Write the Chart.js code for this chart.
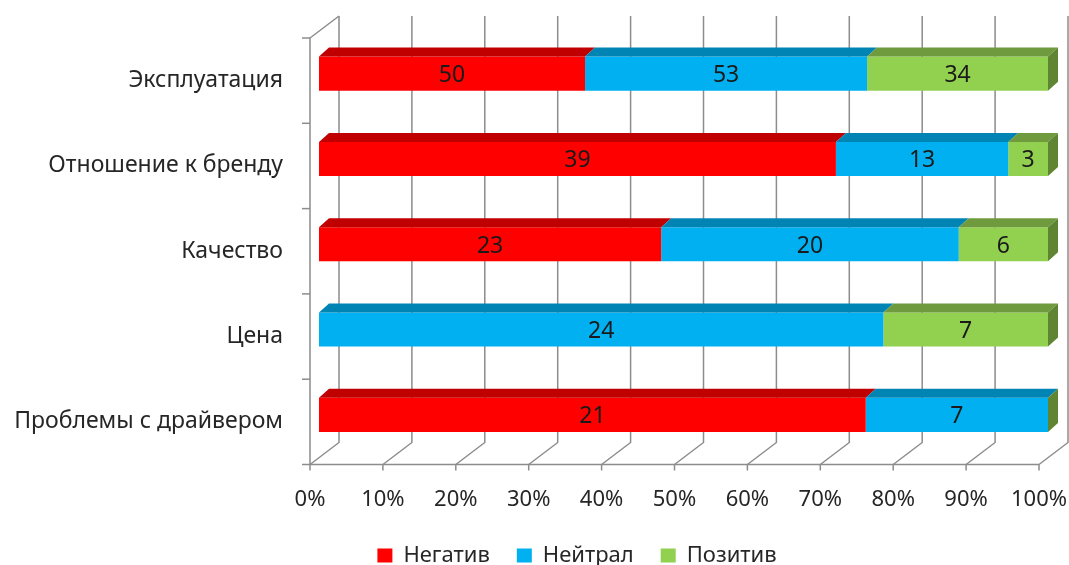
<!DOCTYPE html>
<html lang="ru">
<head>
<meta charset="UTF-8">
<title>Отзывы по категориям</title>
<style>
  body { margin: 0; background: #ffffff; }
  #chart { display: block; }
</style>
<script src="https://cdn.jsdelivr.net/npm/chart.js"></script>
</head>
<body>
<canvas id="chart" width="1069" height="565"></canvas>
<script>
const categories = ['Эксплуатация', 'Отношение к бренду', 'Качество', 'Цена', 'Проблемы с драйвером'];
const negative = [50, 39, 23, 0, 21];
const neutral = [53, 13, 20, 24, 7];
const positive = [34, 3, 6, 7, 0];
const xTicks = [0, 10, 20, 30, 40, 50, 60, 70, 80, 90, 100];

const FONT = '"Noto Sans", sans-serif';
const faceColors = ['#ff0000', '#00b0f0', '#92d050'];
const topColors = ['#c00000', '#0084b4', '#6f9a3e'];
const sideColor = '#5f8532';

// excel style 100% stacked: turn counts into shares
const totals = categories.map((c, i) => negative[i] + neutral[i] + positive[i]);
const pct = arr => arr.map((v, i) => v / totals[i] * 100);
const raw = [negative, neutral, positive];

// depth offsets relative to the plane of the bar fronts
const bar3d = { dx: 10, dy: 9 };
const front = { dx: -9, dy: 7 };
const back = { dx: 20, dy: -15 };
const legendShift = 53; // excel put the legend a bit right of centre

const wallsPlugin = {
  id: 'walls',
  afterLayout(chart) {
    if (chart.legend) {
      chart.legend.left += legendShift;
      chart.legend.right += legendShift;
    }
  },
  beforeDatasetsDraw(chart) {
    const ctx = chart.ctx;
    const area = chart.chartArea;
    const xs = chart.scales.x;
    ctx.save();
    ctx.strokeStyle = '#8c8c8c';
    ctx.lineWidth = 1.5;
    const fy = area.bottom + front.dy;
    const byTop = area.top + back.dy;
    const byBot = area.bottom + back.dy;
    xTicks.forEach(v => {
      const px = xs.getPixelForValue(v);
      ctx.beginPath();
      ctx.moveTo(px + front.dx, fy + 6);
      ctx.lineTo(px + front.dx, fy);
      ctx.lineTo(px + back.dx, byBot);
      ctx.lineTo(px + back.dx, byTop);
      ctx.stroke();
    });
    // floor front edge and left wall
    const x0 = xs.getPixelForValue(0);
    ctx.beginPath();
    ctx.moveTo(xs.getPixelForValue(100) + front.dx, fy);
    ctx.lineTo(x0 + front.dx, fy);
    ctx.lineTo(x0 + front.dx, area.top + front.dy);
    ctx.lineTo(x0 + back.dx, byTop);
    ctx.stroke();
    const band = (area.bottom - area.top) / categories.length;
    for (let k = 0; k <= categories.length; k++) {
      const y = area.top + front.dy + k * band;
      ctx.beginPath();
      ctx.moveTo(x0 + front.dx - 8, y);
      ctx.lineTo(x0 + front.dx, y);
      ctx.stroke();
    }
    ctx.restore();
  },
  afterDatasetsDraw(chart) {
    const ctx = chart.ctx;
    ctx.save();
    chart.data.datasets.forEach((ds, i) => {
      chart.getDatasetMeta(i).data.forEach((el, j) => {
        const top = el.y - el.height / 2;
        const bottom = el.y + el.height / 2;
        if (raw[i][j] > 0) {
          ctx.fillStyle = topColors[i];
          ctx.beginPath();
          ctx.moveTo(el.base, top);
          ctx.lineTo(el.x, top);
          ctx.lineTo(el.x + bar3d.dx, top - bar3d.dy);
          ctx.lineTo(el.base + bar3d.dx, top - bar3d.dy);
          ctx.closePath();
          ctx.fill();
        }
        if (i === chart.data.datasets.length - 1) {
          ctx.fillStyle = sideColor;
          ctx.beginPath();
          ctx.moveTo(el.x, top);
          ctx.lineTo(el.x + bar3d.dx, top - bar3d.dy);
          ctx.lineTo(el.x + bar3d.dx, bottom - bar3d.dy);
          ctx.lineTo(el.x, bottom);
          ctx.closePath();
          ctx.fill();
        }
      });
    });
    // value labels
    ctx.fillStyle = '#1a1a1a';
    ctx.font = '23px ' + FONT;
    ctx.textAlign = 'center';
    ctx.textBaseline = 'middle';
    chart.data.datasets.forEach((ds, i) => {
      chart.getDatasetMeta(i).data.forEach((el, j) => {
        if (raw[i][j] > 0) {
          ctx.fillText(String(raw[i][j]), (el.base + el.x) / 2, el.y + 2);
        }
      });
    });
    ctx.restore();
  }
};

new Chart(document.getElementById('chart'), {
  type: 'bar',
  data: {
    labels: categories,
    datasets: [
      { label: 'Негатив', data: pct(negative), backgroundColor: faceColors[0] },
      { label: 'Нейтрал', data: pct(neutral), backgroundColor: faceColors[1] },
      { label: 'Позитив', data: pct(positive), backgroundColor: faceColors[2] }
    ]
  },
  options: {
    indexAxis: 'y',
    responsive: false,
    animation: false,
    layout: { padding: { top: 31, right: 21, left: 0, bottom: -11.5 } },
    datasets: { bar: { categoryPercentage: 1, barPercentage: 0.4 } },
    scales: {
      x: {
        stacked: true,
        min: 0,
        max: 100,
        grid: { display: false, drawTicks: false },
        border: { display: false },
        afterBuildTicks: s => { s.ticks = xTicks.map(v => ({ value: v })); },
        afterFit: s => { s.height = 60; s.paddingLeft = 0; s.paddingRight = 0; },
        ticks: {
          callback: v => v + '%',
          labelOffset: -9,
          padding: 29,
          maxRotation: 0,
          color: '#262626',
          font: { family: FONT, size: 22 }
        }
      },
      y: {
        stacked: true,
        grid: { display: false, drawTicks: false },
        border: { display: false },
        afterFit: s => { s.width = 319; s.paddingTop = 0; s.paddingBottom = 0; },
        ticks: {
          labelOffset: 7,
          padding: 36,
          color: '#262626',
          font: { family: FONT, size: 23 }
        }
      }
    },
    plugins: {
      legend: {
        position: 'bottom',
        labels: {
          boxWidth: 15,
          boxHeight: 14,
          padding: 27,
          color: '#262626',
          font: { family: FONT, size: 22 }
        }
      },
      tooltip: { enabled: false }
    }
  },
  plugins: [wallsPlugin]
});
</script>
</body>
</html>
